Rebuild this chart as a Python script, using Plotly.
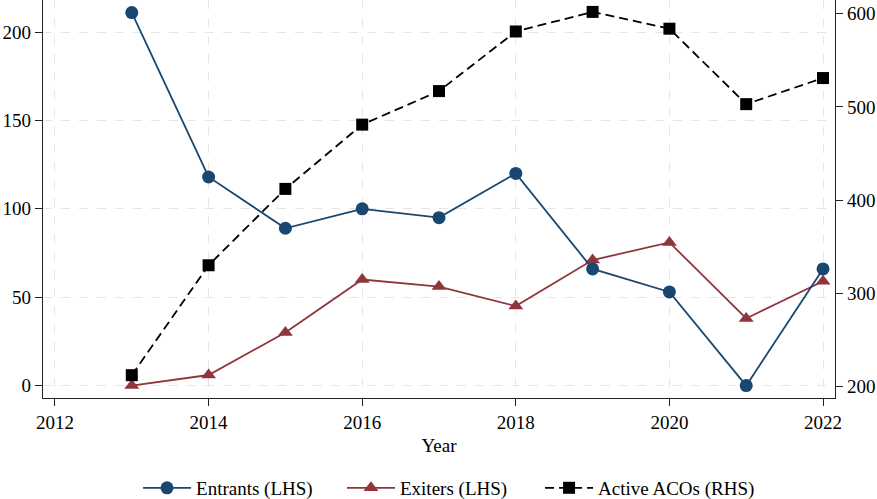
import plotly.graph_objects as go

# Annual counts of ACO entrants/exiters (left axis) and active ACOs (right axis)
years = [2013, 2014, 2015, 2016, 2017, 2018, 2019, 2020, 2021, 2022]
entrants = [211, 118, 89, 100, 95, 120, 66, 53, 0, 66]
exiters = [0, 6, 30, 60, 56, 45, 71, 81, 38, 59]
active_acos = [212, 330, 412, 481, 517, 581, 602, 584, 503, 531]

x_ticks = [2012, 2014, 2016, 2018, 2020, 2022]
left_ticks = [0, 50, 100, 150, 200]
right_ticks = [200, 300, 400, 500, 600]

BLUE = "#1a476f"
RED = "#90353b"
FONT = "Liberation Serif"

fig = go.Figure()

fig.add_trace(go.Scatter(
    x=years, y=exiters, name="Exiters (LHS)", mode="lines+markers",
    line=dict(color=RED, width=1.8),
    marker=dict(symbol="triangle-up", size=13, color=RED),
    yaxis="y", legend="legend2",
))
fig.add_trace(go.Scatter(
    x=years, y=entrants, name="Entrants (LHS)", mode="lines+markers",
    line=dict(color=BLUE, width=1.8),
    marker=dict(symbol="circle", size=13, color=BLUE),
    yaxis="y", legend="legend",
))
fig.add_trace(go.Scatter(
    x=years, y=active_acos, name="Active ACOs (RHS)", mode="lines+markers",
    line=dict(color="black", width=1.8, dash="9px,5px"),
    marker=dict(symbol="square", size=12, color="black"),
    yaxis="y2", legend="legend3",
))

axis_common = dict(
    showline=True, linecolor="#222222", linewidth=1.3,
    ticks="outside", ticklen=7, tickwidth=1.2, tickcolor="#222222",
    zeroline=False,
    tickfont=dict(family=FONT, size=19, color="black"),
)

legend_common = dict(
    orientation="h", xanchor="left", y=-0.226, yanchor="middle",
    font=dict(family=FONT, size=19, color="black"), itemwidth=48,
    bgcolor="rgba(0,0,0,0)",
)

fig.update_layout(
    width=877, height=499,
    margin=dict(l=43, r=42, t=0, b=101, autoexpand=False),
    paper_bgcolor="white", plot_bgcolor="white",
    font=dict(family=FONT, size=19, color="black"),
    xaxis=dict(
        range=[2011.844, 2022.156], tickvals=x_ticks,
        showgrid=True, gridcolor="#e6e6e6", gridwidth=1.2, griddash="dash",
        title=dict(text="Year", font=dict(family=FONT, size=19), standoff=6),
        **axis_common,
    ),
    yaxis=dict(
        range=[-7, 218.1], tickvals=left_ticks,
        showgrid=True, gridcolor="#e6e6e6", gridwidth=1.2, griddash="dash",
        **axis_common,
    ),
    yaxis2=dict(
        range=[187.5, 614.8], tickvals=right_ticks,
        overlaying="y", side="right", showgrid=False,
        **axis_common,
    ),
    legend=dict(x=0.120, **legend_common),
    legend2=dict(x=0.3775, **legend_common),
    legend3=dict(x=0.6276, **legend_common),
    showlegend=True,
)

fig.write_html("out.html")
